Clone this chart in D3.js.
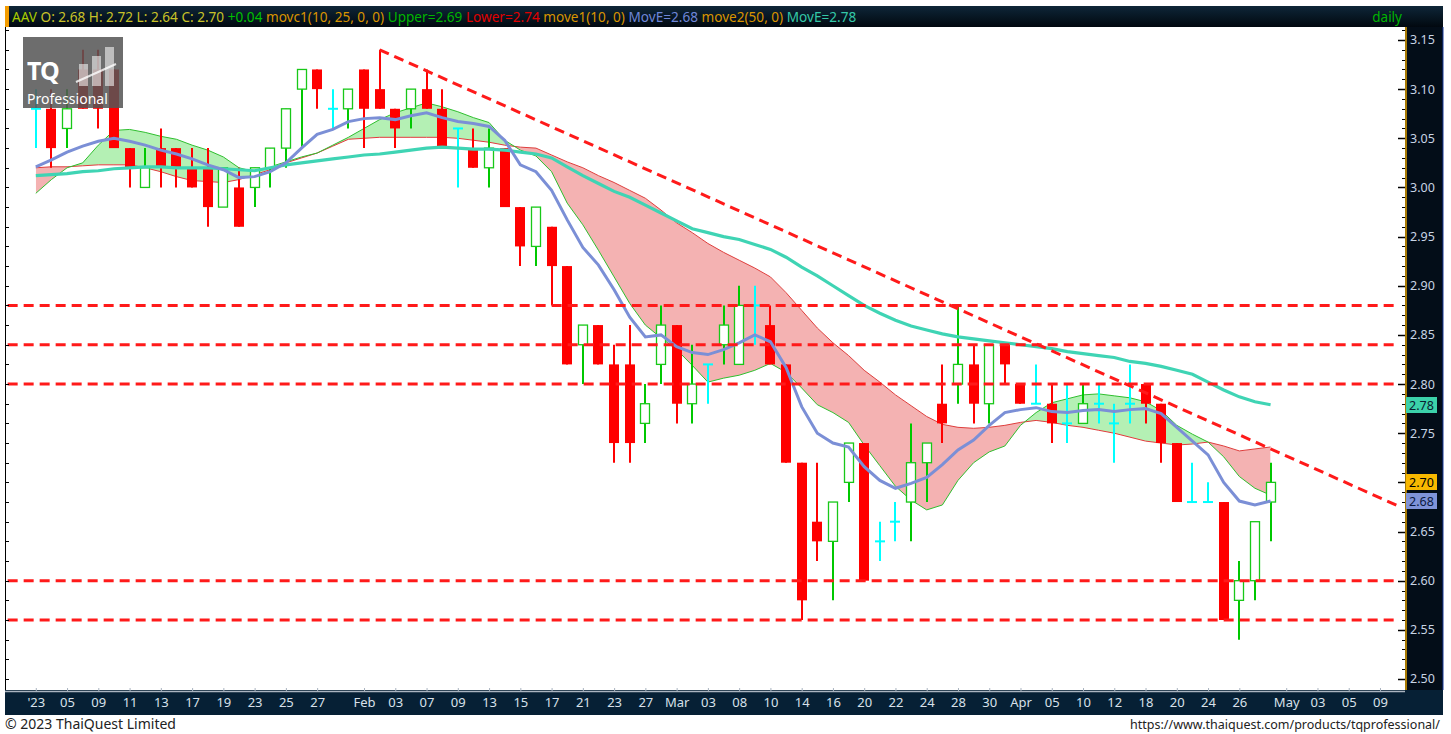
<!DOCTYPE html>
<html>
<head>
<meta charset="utf-8">
<script src="https://cdn.jsdelivr.net/npm/d3@7"></script>
<style>
  body { margin: 0; background: #fff; }
  svg { display: block; font-family: "Noto Sans", sans-serif; }
</style>
</head>
<body>
<svg id="chart" width="1451" height="734"></svg>
<script>
// ---- data (AAV daily) ----
const opens = [3.08,3.08,3.06,3.12,3.12,3.12,3.04,3.00,3.04,3.04, 3.02,3.02,2.98,3.00,3.00,3.02,3.04,3.10,3.12,3.08,
               3.08,3.12,3.10,3.08,3.08,3.10,3.08,3.06,3.04,3.02, 3.04,2.98,2.94,2.96,2.92,2.84,2.86,2.82,2.82,2.76,
               2.82,2.86,2.78,2.82,2.84,2.82,2.88,2.86,2.82,2.72, 2.66,2.64,2.70,2.74,2.64,2.66,2.68,2.72,2.78,2.80,
               2.82,2.78,2.84,2.80,2.78,2.78,2.76,2.76,2.78,2.76, 2.78,2.80,2.78,2.74,2.68,2.68,2.68,2.58,2.60,2.68];
const highs = [3.10,3.10,3.10,3.14,3.14,3.12,3.04,3.04,3.06,3.04, 3.04,3.04,3.02,3.02,3.02,3.04,3.08,3.12,3.12,3.10,
               3.10,3.12,3.14,3.08,3.10,3.12,3.10,3.06,3.06,3.06, 3.04,2.98,2.98,2.96,2.92,2.86,2.86,2.84,2.86,2.80,
               2.88,2.86,2.84,2.82,2.88,2.90,2.90,2.88,2.82,2.72, 2.72,2.68,2.74,2.74,2.66,2.68,2.76,2.74,2.82,2.88,
               2.84,2.84,2.84,2.80,2.82,2.80,2.80,2.80,2.80,2.78, 2.82,2.80,2.78,2.74,2.72,2.70,2.68,2.62,2.66,2.72];
const lows  = [3.04,3.02,3.04,3.08,3.06,3.04,3.00,3.00,3.00,3.00, 3.00,2.96,2.98,2.96,2.98,3.00,3.02,3.04,3.08,3.06,
               3.06,3.04,3.08,3.04,3.06,3.08,3.04,3.00,3.02,3.00, 2.98,2.92,2.92,2.88,2.82,2.80,2.82,2.72,2.72,2.74,
               2.80,2.76,2.76,2.78,2.82,2.82,2.84,2.82,2.72,2.56, 2.62,2.58,2.68,2.60,2.62,2.64,2.64,2.68,2.74,2.78,
               2.76,2.76,2.80,2.78,2.78,2.74,2.74,2.76,2.76,2.72, 2.76,2.76,2.72,2.68,2.68,2.68,2.56,2.54,2.58,2.64];
const closes = [3.08,3.04,3.08,3.08,3.08,3.04,3.02,3.02,3.02,3.02, 3.00,2.98,3.02,2.96,3.02,3.04,3.08,3.12,3.10,3.08,
               3.10,3.08,3.08,3.06,3.10,3.08,3.04,3.06,3.02,3.04, 2.98,2.94,2.98,2.92,2.82,2.86,2.82,2.74,2.74,2.78,
               2.86,2.78,2.80,2.82,2.86,2.88,2.88,2.82,2.72,2.58, 2.64,2.68,2.74,2.60,2.64,2.66,2.72,2.74,2.76,2.82,
               2.78,2.84,2.82,2.78,2.78,2.76,2.76,2.78,2.78,2.76, 2.78,2.78,2.74,2.68,2.68,2.68,2.56,2.60,2.66,2.70];

// movc1(10,25): Upper (10-day, green) and Lower (25-day, red)
const upperMA = [2.994,3.008,3.020,3.025,3.043,3.058,3.059,3.056,3.052,3.049, 3.043,3.038,3.031,3.020,3.016,3.021,3.026,3.031,3.035,3.043,
                 3.051,3.060,3.069,3.076,3.081,3.086,3.082,3.077,3.071,3.066, 3.048,3.038,3.032,3.016,2.984,2.962,2.936,2.909,2.882,2.860,
                 2.847,2.835,2.819,2.802,2.806,2.809,2.814,2.821,2.812,2.796, 2.779,2.771,2.761,2.738,2.717,2.696,2.682,2.672,2.677,2.702,
                 2.720,2.731,2.737,2.758,2.771,2.781,2.785,2.789,2.790,2.788, 2.786,2.782,2.773,2.758,2.749,2.741,2.726,2.706,2.694,2.687];
const lowerMA = [3.020,3.021,3.021,3.022,3.023,3.023,3.023,3.020,3.016,3.011, 3.007,3.006,3.005,3.008,3.013,3.018,3.025,3.030,3.035,3.042,
                 3.049,3.050,3.051,3.051,3.051,3.051,3.051,3.050,3.048,3.046, 3.043,3.041,3.040,3.033,3.026,3.020,3.012,3.005,2.997,2.989,
                 2.977,2.964,2.954,2.943,2.934,2.926,2.918,2.909,2.893,2.875, 2.857,2.842,2.829,2.814,2.802,2.789,2.778,2.767,2.759,2.756,
                 2.755,2.756,2.758,2.761,2.763,2.761,2.758,2.756,2.753,2.750, 2.746,2.742,2.740,2.738,2.739,2.741,2.737,2.732,2.734,2.736];
// move1(10) and move2(50)
const ema10 = [3.021,3.028,3.036,3.042,3.047,3.050,3.047,3.043,3.038,3.034, 3.029,3.023,3.018,3.010,3.011,3.016,3.025,3.040,3.054,3.059,
               3.067,3.070,3.071,3.069,3.073,3.076,3.071,3.067,3.065,3.062, 3.048,3.023,3.016,2.997,2.967,2.939,2.921,2.896,2.868,2.848,
               2.850,2.838,2.832,2.830,2.835,2.842,2.850,2.843,2.817,2.777, 2.750,2.740,2.736,2.716,2.702,2.694,2.699,2.705,2.718,2.733,
               2.743,2.758,2.771,2.774,2.776,2.772,2.771,2.773,2.774,2.772, 2.774,2.775,2.770,2.756,2.742,2.728,2.700,2.681,2.677,2.681];
const ema50 = [3.012,3.013,3.014,3.016,3.017,3.019,3.020,3.021,3.021,3.020, 3.020,3.020,3.019,3.018,3.017,3.020,3.023,3.025,3.027,3.029,
               3.031,3.033,3.034,3.036,3.038,3.040,3.041,3.040,3.039,3.039, 3.038,3.036,3.034,3.030,3.021,3.012,3.004,2.996,2.990,2.982,
               2.974,2.966,2.958,2.954,2.950,2.947,2.942,2.937,2.929,2.919, 2.910,2.900,2.890,2.880,2.872,2.865,2.859,2.855,2.851,2.848,
               2.846,2.844,2.842,2.840,2.838,2.836,2.833,2.831,2.829,2.827, 2.823,2.821,2.818,2.814,2.810,2.802,2.794,2.787,2.782,2.779];

// drawn support / resistance levels and the falling trend line (bar index, price)
const levels = [2.88, 2.84, 2.80, 2.60, 2.56];
const trendIdx = [22, 87.3];
const trendVal = [3.14, 2.675];

// x axis: bar index of each date label
const tickIdx = [0,2,4,6,8,10,12,14,16,18,21,23,25,27,29,31,33,35,37,39,41,43,45,47,49,51,53,55,57,59,61,63,65,67,69,71,73,75,77,80,82,84,86];
const tickLabels = ["'23","05","09","11","13","17","19","23","25","27","Feb","03","07","09","13","15","17","21","23","27",
                    "Mar","03","08","10","14","16","20","22","24","28","30","Apr","05","10","12","18","20","24","26","May","03","05","09"];
const priceTicks = d3.range(2.50, 3.151, 0.05);

// ---- layout ----
const plot = { left: 5, right: 1405, top: 27, bottom: 690 };
const svg = d3.select('#chart');
const x = d3.scaleLinear().domain([-1.97, 87.6]).range([plot.left, plot.right]);
const y = d3.scaleLinear().domain([2.4888, 3.1632]).range([plot.bottom, plot.top]);
const bars = opens.map((o, i) => ({ i, o, h: highs[i], l: lows[i], c: closes[i] }));

const defs = svg.append('defs');
defs.append('clipPath').attr('id', 'plotClip').append('rect')
    .attr('x', plot.left).attr('y', plot.top)
    .attr('width', plot.right - plot.left).attr('height', plot.bottom - plot.top);
const hdr = defs.append('linearGradient').attr('id', 'hdrGrad').attr('x1', 0).attr('y1', 0).attr('x2', 0).attr('y2', 1);
hdr.append('stop').attr('offset', '0%').attr('stop-color', '#0e2638');
hdr.append('stop').attr('offset', '100%').attr('stop-color', '#01080f');

// area between the two MAs, split by which one is on top
const areaBetween = d3.area().x((d, i) => x(i)).y0((d, i) => y(lowerMA[i])).y1(d => y(d));
defs.append('clipPath').attr('id', 'aboveLower').append('path')
    .attr('d', d3.area().x((d, i) => x(i)).y0(plot.top).y1(d => y(d))(lowerMA));
defs.append('clipPath').attr('id', 'belowLower').append('path')
    .attr('d', d3.area().x((d, i) => x(i)).y0(plot.bottom).y1(d => y(d))(lowerMA));

const g = svg.append('g').attr('clip-path', 'url(#plotClip)');

g.append('path').attr('d', areaBetween(upperMA)).attr('fill', '#b4f0b4')
    .attr('clip-path', 'url(#aboveLower)');
g.append('path').attr('d', areaBetween(upperMA)).attr('fill', '#f4b2b2')
    .attr('clip-path', 'url(#belowLower)');

const line = d3.line().x((d, i) => x(i)).y(d => y(d));
g.append('path').attr('d', line(lowerMA)).attr('fill', 'none').attr('stroke', '#e03c3c').attr('stroke-width', 1);
g.append('path').attr('d', line(upperMA)).attr('fill', 'none').attr('stroke', '#2fbf2f').attr('stroke-width', 1);

// candles
const bw = 10;
const candle = g.selectAll('.candle').data(bars).enter().append('g').attr('class', 'candle');
candle.each(function (d) {
    const el = d3.select(this);
    const cx = Math.round(x(d.i));
    if (d.o === d.c) {
        el.append('line').attr('x1', cx).attr('x2', cx).attr('y1', y(d.h)).attr('y2', y(d.l))
            .attr('stroke', '#00ffff').attr('stroke-width', 2);
        el.append('line').attr('x1', cx - bw / 2).attr('x2', cx + bw / 2).attr('y1', y(d.o)).attr('y2', y(d.o))
            .attr('stroke', '#00ffff').attr('stroke-width', 2);
    } else if (d.c > d.o) {
        el.append('line').attr('x1', cx).attr('x2', cx).attr('y1', y(d.h)).attr('y2', y(d.l))
            .attr('stroke', '#00c800').attr('stroke-width', 2);
        el.append('rect').attr('x', cx - bw / 2 + 0.5).attr('y', y(d.c))
            .attr('width', bw - 1).attr('height', y(d.o) - y(d.c))
            .attr('fill', '#fff').attr('stroke', '#18c818').attr('stroke-width', 1.3);
    } else {
        el.append('line').attr('x1', cx).attr('x2', cx).attr('y1', y(d.h)).attr('y2', y(d.l))
            .attr('stroke', '#ff0000').attr('stroke-width', 2);
        el.append('rect').attr('x', cx - bw / 2).attr('y', y(d.o))
            .attr('width', bw).attr('height', y(d.c) - y(d.o)).attr('fill', '#ff0000');
    }
});

// EMA lines
g.append('path').attr('d', line(ema50)).attr('fill', 'none').attr('stroke', '#3fd4b4').attr('stroke-width', 3.2);
g.append('path').attr('d', line(ema10)).attr('fill', 'none').attr('stroke', '#7b8fd6').attr('stroke-width', 3);

// horizontal levels and trend line
g.selectAll('.level').data(levels).enter().append('line')
    .attr('x1', x(-1.8)).attr('x2', x(87.2)).attr('y1', d => y(d)).attr('y2', d => y(d))
    .attr('stroke', '#ff1a1a').attr('stroke-width', 3).attr('stroke-dasharray', '10,6');
g.append('line')
    .attr('x1', x(trendIdx[0])).attr('y1', y(trendVal[0]))
    .attr('x2', x(trendIdx[1])).attr('y2', y(trendVal[1]))
    .attr('stroke', '#ff1a1a').attr('stroke-width', 3).attr('stroke-dasharray', '10,6');

// logo (semi transparent over the candles)
const logo = svg.append('g');
logo.append('rect').attr('x', 23).attr('y', 37).attr('width', 100).attr('height', 71)
    .attr('fill', '#555').attr('opacity', 0.86);
logo.append('text').attr('x', 27).attr('y', 80).attr('fill', '#fff').attr('font-size', 25)
    .attr('font-weight', 'bold').attr('letter-spacing', -1).text('TQ');
logo.append('text').attr('x', 27).attr('y', 104).attr('fill', '#fff').attr('font-size', 14)
    .text('Professional');
[[79, 64, 22], [92, 56, 30], [105, 47, 39]].forEach(([bx, by, bh]) => {
    logo.append('rect').attr('x', bx).attr('y', by).attr('width', 9).attr('height', bh)
        .attr('fill', '#fff').attr('opacity', 0.55);
});
logo.append('line').attr('x1', 76).attr('y1', 82).attr('x2', 116).attr('y2', 64)
    .attr('stroke', '#fff').attr('stroke-width', 2).attr('opacity', 0.8);

// frame lines and left ticks
svg.append('line').attr('x1', plot.left + 0.5).attr('x2', plot.left + 0.5).attr('y1', plot.top).attr('y2', plot.bottom)
    .attr('stroke', '#000').attr('stroke-width', 1);
svg.selectAll('.lt').data(d3.range(2.50, 3.161, 0.02)).enter().append('line')
    .attr('x1', plot.left).attr('x2', plot.left + 4).attr('y1', d => Math.round(y(d)) + 0.5).attr('y2', d => Math.round(y(d)) + 0.5)
    .attr('stroke', '#000');

// header bar
svg.append('rect').attr('x', 5).attr('y', 6).attr('width', 1438).attr('height', 21).attr('fill', 'url(#hdrGrad)');
svg.append('rect').attr('x', 5).attr('y', 6).attr('width', 4).attr('height', 21).attr('fill', '#f39c00');
const parts = [
    ['AAV ', '#a8cc00'], ['O: 2.68 H: 2.72 L: 2.64 C: 2.70 ', '#c8c228'], ['+0.04 ', '#00c000'],
    ['movc1(10, 25, 0, 0) ', '#d89400'], ['Upper=2.69 ', '#00b400'], ['Lower=2.74 ', '#e00000'],
    ['move1(10, 0) ', '#d89400'], ['MovE=2.68 ', '#6f86d8'], ['move2(50, 0) ', '#d89400'], ['MovE=2.78', '#34c8a8']
];
const ht = svg.append('text').attr('x', 12).attr('y', 22).attr('font-size', 13.6).attr('xml:space', 'preserve');
parts.forEach(([t, c]) => ht.append('tspan').attr('fill', c).text(t));
svg.append('text').attr('x', 1402).attr('y', 22).attr('text-anchor', 'end').attr('font-size', 13.5)
    .attr('fill', '#00b400').text('daily');

// right price axis
svg.append('rect').attr('x', plot.right).attr('y', plot.top).attr('width', 38).attr('height', plot.bottom - plot.top)
    .attr('fill', '#030d18');
svg.append('line').attr('x1', plot.right + 1).attr('x2', plot.right + 1).attr('y1', plot.top).attr('y2', plot.bottom)
    .attr('stroke', '#e0a000').attr('stroke-width', 1.5);
svg.append('line').attr('x1', 1443).attr('x2', 1443).attr('y1', plot.top).attr('y2', plot.bottom)
    .attr('stroke', '#1a3a9a').attr('stroke-width', 1);
svg.selectAll('.minor').data(d3.range(2.50, 3.161, 0.01)).enter().append('line')
    .attr('x1', plot.right - 3).attr('x2', plot.right).attr('y1', d => Math.round(y(d)) + 0.5).attr('y2', d => Math.round(y(d)) + 0.5)
    .attr('stroke', '#000');
const yAxis = d3.axisRight(y).tickValues(priceTicks).tickFormat(d3.format('.2f')).tickSize(0).tickPadding(6);
const ya = svg.append('g').attr('transform', `translate(${plot.right - 1},0)`).call(yAxis);
ya.select('.domain').remove();
ya.selectAll('text').attr('fill', '#c8d4e4').attr('font-size', 12.5).attr('font-family', '"Noto Sans", sans-serif');
svg.selectAll('.major').data(priceTicks).enter().append('line')
    .attr('x1', plot.right - 7).attr('x2', plot.right).attr('y1', d => Math.round(y(d)) + 0.5).attr('y2', d => Math.round(y(d)) + 0.5)
    .attr('stroke', '#000').attr('stroke-width', 1.5);

// last-value badges
const badges = [
    { v: ema50[ema50.length - 1], t: '2.78', bg: '#3cd2aa', fg: '#0a2030' },
    { v: closes[closes.length - 1], t: '2.70', bg: '#f8b800', fg: '#000' },
    { v: ema10[ema10.length - 1], t: '2.68', bg: '#7f93d8', fg: '#0a1840' }
];
badges.forEach(b => {
    const by = Math.round(y(b.v));
    svg.append('rect').attr('x', plot.right + 1).attr('y', by - 8).attr('width', 31).attr('height', 16).attr('fill', b.bg);
    svg.append('text').attr('x', plot.right + 4).attr('y', by + 5).attr('font-size', 12.5).attr('fill', b.fg).text(b.t);
});

// bottom date axis
svg.append('rect').attr('x', 5).attr('y', plot.bottom).attr('width', 1438).attr('height', 25).attr('fill', '#062035');
svg.append('line').attr('x1', 5).attr('x2', plot.right).attr('y1', plot.bottom + 1.5).attr('y2', plot.bottom + 1.5)
    .attr('stroke', '#aab4c0').attr('stroke-width', 1.5);
const xAxis = d3.axisBottom(x).tickValues(tickIdx).tickFormat((d, i) => tickLabels[i]).tickSize(3).tickPadding(4);
const xa = svg.append('g').attr('transform', `translate(0,${plot.bottom + 1})`).call(xAxis);
xa.select('.domain').remove();
xa.selectAll('.tick line').attr('stroke', '#aab4c0').attr('transform', 'translate(0,-3)');
xa.selectAll('text').attr('fill', '#d8e0ea').attr('font-size', 13).attr('font-family', '"Noto Sans", sans-serif');

// footer
svg.append('text').attr('x', 5).attr('y', 729).attr('font-size', 14).attr('fill', '#222').text('© 2023 ThaiQuest Limited');
svg.append('text').attr('x', 1440).attr('y', 729).attr('text-anchor', 'end').attr('font-size', 12.5).attr('fill', '#222')
    .text('https://www.thaiquest.com/products/tqprofessional/');
</script>
</body>
</html>
